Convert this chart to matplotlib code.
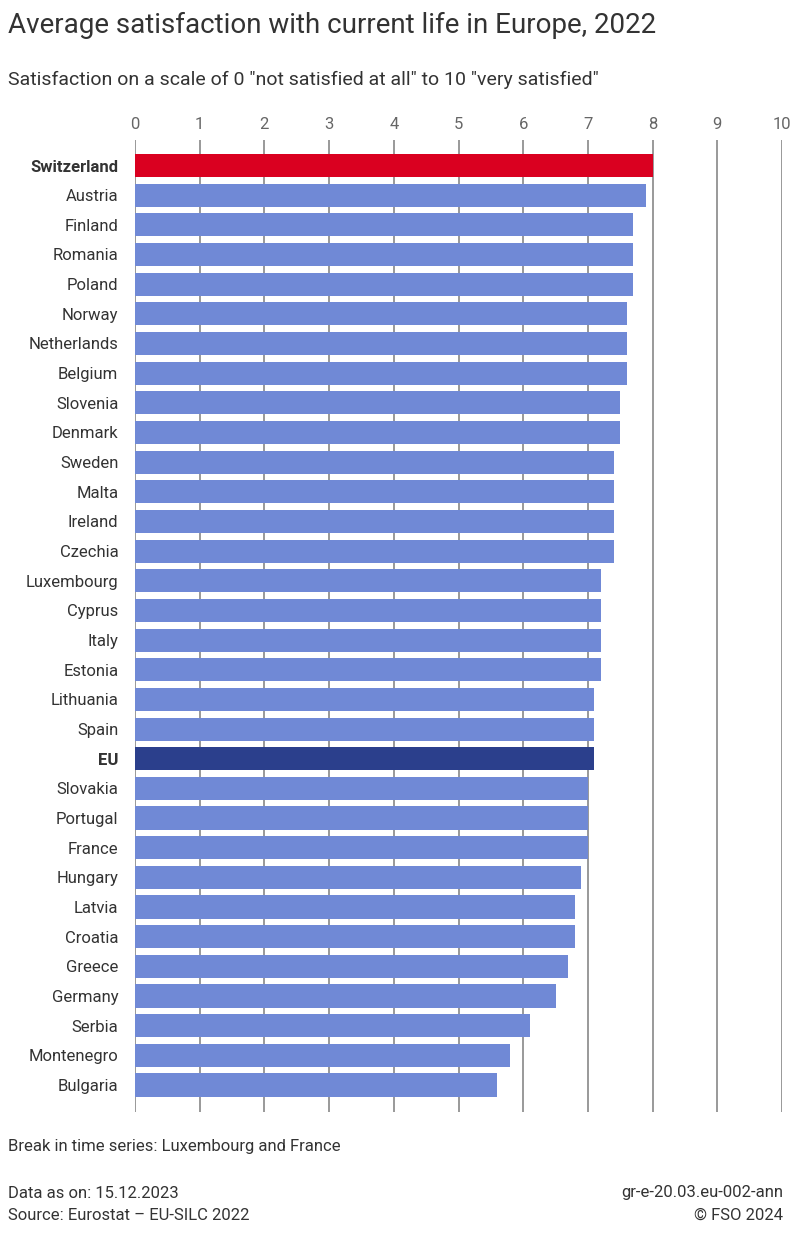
import numpy as np
import matplotlib
matplotlib.use("Agg")
import matplotlib.pyplot as plt

plt.rcParams['font.family'] = ['Roboto', 'DejaVu Sans']

countries = ["Switzerland", "Austria", "Finland", "Romania", "Poland", "Norway",
             "Netherlands", "Belgium", "Slovenia", "Denmark", "Sweden", "Malta",
             "Ireland", "Czechia", "Luxembourg", "Cyprus", "Italy", "Estonia",
             "Lithuania", "Spain", "EU", "Slovakia", "Portugal", "France",
             "Hungary", "Latvia", "Croatia", "Greece", "Germany", "Serbia",
             "Montenegro", "Bulgaria"]
values = [8.0, 7.9, 7.7, 7.7, 7.7, 7.6,
          7.6, 7.6, 7.5, 7.5, 7.4, 7.4,
          7.4, 7.4, 7.2, 7.2, 7.2, 7.2,
          7.1, 7.1, 7.1, 7.0, 7.0, 7.0,
          6.9, 6.8, 6.8, 6.7, 6.5, 6.1,
          5.8, 5.6]
highlight = {"Switzerland": "#DA0020", "EU": "#2B3F8C"}
base_color = "#7089D6"
xticks = list(range(0, 11))

fig = plt.figure(figsize=(7.91, 12.34), dpi=100)
ax = fig.add_axes([135/791, 1 - 1112/1234, (782-135)/791, (1112-140)/1234])

y = np.arange(len(countries))
colors = [highlight.get(c, base_color) for c in countries]
ax.barh(y, values, height=0.78, color=colors, zorder=3)

ax.set_xlim(0, 10)
ax.set_ylim(len(countries) - 1 + 0.91, -0.86)
ax.set_xticks(xticks)
ax.xaxis.tick_top()
ax.tick_params(axis='x', length=0, pad=6, labelsize=12, labelcolor="#666666")
ax.grid(axis='x', color="#888888", linewidth=1.2, zorder=1)
ax.set_yticks(y)
ax.set_yticklabels(countries)
ax.tick_params(axis='y', length=0, pad=12, labelsize=12, labelcolor="#333333")
for lbl in ax.get_yticklabels():
    if lbl.get_text() in highlight:
        lbl.set_fontweight('bold')
for s in ax.spines.values():
    s.set_visible(False)

fig.text(8/791, 1 - 25/1234, "Average satisfaction with current life in Europe, 2022",
         fontsize=20, color="#333333", va='center', ha='left')
fig.text(8/791, 1 - 80/1234,
         'Satisfaction on a scale of 0 "not satisfied at all" to 10 "very satisfied"',
         fontsize=14, color="#333333", va='center', ha='left')

fig.text(8/791, 1 - 1147/1234, "Break in time series: Luxembourg and France",
         fontsize=12, color="#333333", va='center', ha='left')
fig.text(8/791, 1 - 1193/1234, "Data as on: 15.12.2023",
         fontsize=12, color="#333333", va='center', ha='left')
fig.text(8/791, 1 - 1215/1234, "Source: Eurostat \u2013 EU-SILC 2022",
         fontsize=12, color="#333333", va='center', ha='left')
fig.text(783/791, 1 - 1193/1234, "gr-e-20.03.eu-002-ann",
         fontsize=12, color="#333333", va='center', ha='right')
fig.text(783/791, 1 - 1215/1234, "\u00a9 FSO 2024",
         fontsize=12, color="#333333", va='center', ha='right')

fig.savefig("out.png", dpi=100)
